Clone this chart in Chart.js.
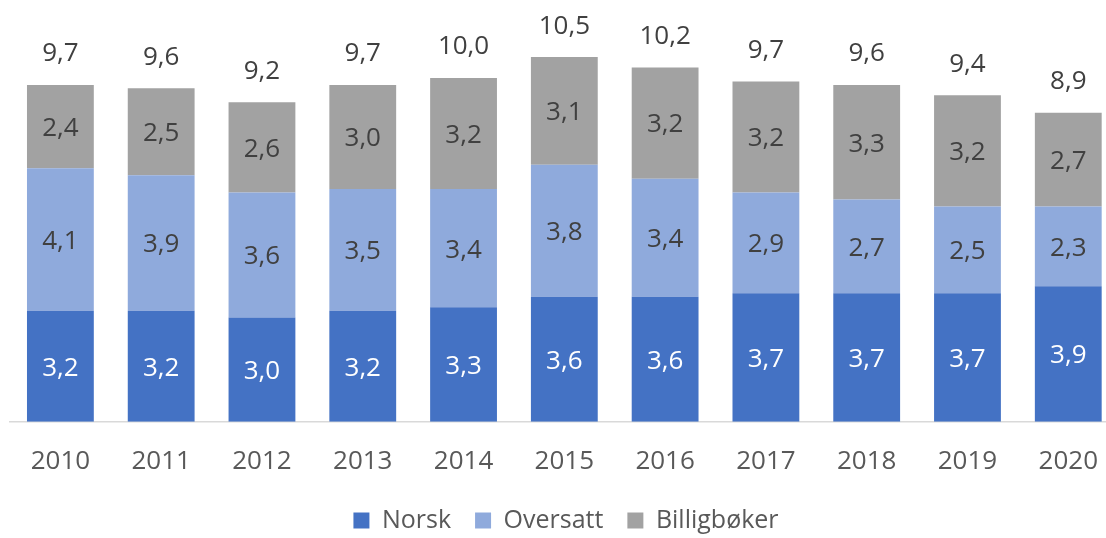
<!DOCTYPE html>
<html>
<head>
<meta charset="utf-8">
<script src="https://cdn.jsdelivr.net/npm/chart.js@4"></script>
<style>
  html, body { margin: 0; padding: 0; background: #ffffff; overflow: hidden; }
  #wrap { position: absolute; left: 0; top: 0; width: 1122px; height: 538px; }
</style>
</head>
<body>
<div id="wrap"><canvas id="c"></canvas></div>
<script>
const years = ['2010','2011','2012','2013','2014','2015','2016','2017','2018','2019','2020'];
const norsk = [3.2, 3.2, 3.0, 3.2, 3.3, 3.6, 3.6, 3.7, 3.7, 3.7, 3.9];
const oversatt = [4.1, 3.9, 3.6, 3.5, 3.4, 3.8, 3.4, 2.9, 2.7, 2.5, 2.3];
const billigboker = [2.4, 2.5, 2.6, 3.0, 3.2, 3.1, 3.2, 3.2, 3.3, 3.2, 2.7];
const totals = [9.7, 9.6, 9.2, 9.7, 10.0, 10.5, 10.2, 9.7, 9.6, 9.4, 8.9];
const seriesNames = ['Norsk', 'Oversatt', 'Billigbøker'];

const FONT = '"Open Sans", "Noto Sans", sans-serif';
const fmt = v => v.toFixed(1).replace('.', ',');

const labelPlugin = {
  id: 'segLabels',
  beforeInit(chart) {
    const lg = chart.legend;
    if (lg && !lg._patched) {
      const orig = lg.fit;
      lg.fit = function () { orig.call(this); this.height -= 5; };
      lg._patched = true;
    }
  },
  afterDatasetsDraw(chart) {
    const ctx = chart.ctx;
    ctx.save();
    ctx.font = '26px ' + FONT;
    ctx.textAlign = 'center';
    ctx.textBaseline = 'middle';
    chart.data.datasets.forEach((ds, di) => {
      const meta = chart.getDatasetMeta(di);
      meta.data.forEach((bar, i) => {
        ctx.fillStyle = di === 0 ? '#ffffff' : '#404040';
        ctx.fillText(fmt(ds.data[i]), bar.x, (bar.y + bar.base) / 2 + 2);
      });
    });
    const top = chart.getDatasetMeta(chart.data.datasets.length - 1);
    top.data.forEach((bar, i) => {
      ctx.fillStyle = '#404040';
      ctx.fillText(fmt(totals[i]), bar.x, bar.y - 31);
    });
    ctx.restore();
  }
};

new Chart(document.getElementById('c'), {
  type: 'bar',
  data: {
    labels: years,
    datasets: [
      { label: seriesNames[0], data: norsk, backgroundColor: '#4472C4' },
      { label: seriesNames[1], data: oversatt, backgroundColor: '#8FAADC' },
      { label: seriesNames[2], data: billigboker, backgroundColor: '#A2A2A2' }
    ]
  },
  options: {
    responsive: true,
    maintainAspectRatio: false,
    animation: false,
    layout: { padding: { left: 10, right: 0, top: 5, bottom: 0 } },
    datasets: { bar: { categoryPercentage: 1.0, barPercentage: 0.663 } },
    scales: {
      x: {
        stacked: true,
        grid: { display: false, drawTicks: false },
        border: { display: true, color: '#d9d9d9', width: 1.5 },
        ticks: { color: '#595959', font: { family: FONT, size: 26 }, padding: 24 },
        afterFit(scale) { scale.height -= 17; }
      },
      y: {
        stacked: true,
        display: false,
        min: 0,
        max: 12
      }
    },
    plugins: {
      legend: {
        position: 'bottom',
        labels: {
          color: '#595959',
          font: { family: FONT, size: 25 },
          boxWidth: 16,
          boxHeight: 16,
          padding: 24
        }
      },
      tooltip: { enabled: false }
    }
  },
  plugins: [labelPlugin]
});
</script>
</body>
</html>
